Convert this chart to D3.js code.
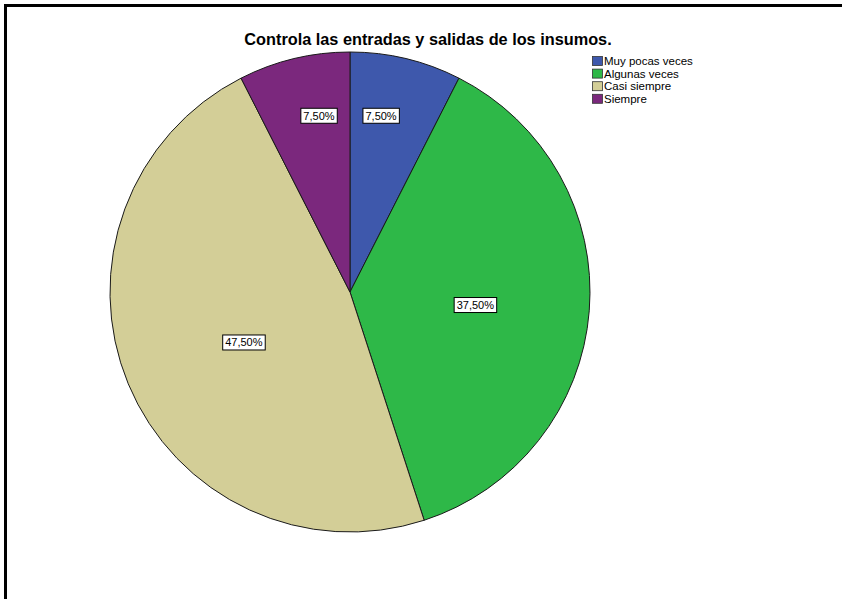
<!DOCTYPE html>
<html>
<head>
<meta charset="utf-8">
<script src="https://cdn.jsdelivr.net/npm/d3@7"></script>
<style>
  html, body { margin: 0; padding: 0; background: #fff; overflow: hidden; }
  svg { display: block; font-family: Arial, "Liberation Sans", sans-serif; }
</style>
</head>
<body>
<svg id="chart" width="842" height="599"></svg>
<script>
// Response categories and their percentages
const categories = ["Muy pocas veces", "Algunas veces", "Casi siempre", "Siempre"];
const percents = [7.5, 37.5, 47.5, 7.5];
const colors = ["#3E58AC", "#2EB848", "#D3CE97", "#7B287D"];
const title = "Controla las entradas y salidas de los insumos.";

const svg = d3.select("#chart");
const W = 842, H = 599;

svg.append("rect").attr("width", W).attr("height", H).attr("fill", "#fff");

// Outer frame (only the top and left edges fall inside the view)
svg.append("path")
  .attr("d", `M5.5,${H + 10}V5.5H${W + 10}`)
  .attr("fill", "none").attr("stroke", "#000").attr("stroke-width", 3);

// Title
svg.append("text")
  .attr("x", 428).attr("y", 44.5)
  .attr("text-anchor", "middle")
  .attr("font-size", 16.3).attr("font-weight", "bold")
  .attr("fill", "#000")
  .text(title);

// Pie
const cx = 350, cy = 292, R = 240;
const g = svg.append("g").attr("transform", `translate(${cx},${cy})`);

const pie = d3.pie().sort(null).value(d => d)(percents);
const arc = d3.arc().innerRadius(0).outerRadius(R);

g.selectAll("path.slice")
  .data(pie)
  .join("path")
  .attr("class", "slice")
  .attr("d", arc)
  .attr("fill", (d, i) => colors[i])
  .attr("stroke", "#1a1a1a")
  .attr("stroke-width", 1);

// Value labels: radial distance (fraction of radius) and angular nudge per slice
const labelRadius = [0.745, 0.525, 0.49, 0.745];
const labelNudge = [-3.5, 1.5, -3, 3.5];
const fmt = v => d3.format(".2f")(v).replace(".", ",") + "%";

const labels = g.selectAll("g.lab")
  .data(pie)
  .join("g")
  .attr("class", "lab")
  .attr("transform", (d, i) => {
    const a = (d.startAngle + d.endAngle) / 2 + labelNudge[i] * Math.PI / 180;
    const r = R * labelRadius[i];
    return `translate(${r * Math.sin(a)},${-r * Math.cos(a)})`;
  });

labels.each(function (d, i) {
  const sel = d3.select(this);
  const t = sel.append("text")
    .attr("text-anchor", "middle")
    .attr("dy", "0.35em")
    .attr("font-size", 11)
    .attr("fill", "#000")
    .text(fmt(percents[i]));
  const bb = t.node().getBBox();
  sel.insert("rect", "text")
    .attr("x", bb.x - 2.5).attr("y", bb.y - 1.5)
    .attr("width", bb.width + 5).attr("height", bb.height + 3)
    .attr("fill", "#fff").attr("stroke", "#000").attr("stroke-width", 1);
});

// Legend
const legend = svg.append("g").attr("transform", "translate(592,56)");
const items = legend.selectAll("g")
  .data(categories)
  .join("g")
  .attr("transform", (d, i) => `translate(0,${i * 12.6})`);
items.append("rect")
  .attr("x", 0.5).attr("y", 0.5)
  .attr("width", 10).attr("height", 9)
  .attr("fill", (d, i) => colors[i])
  .attr("stroke", "#333").attr("stroke-width", 0.8);
items.append("text")
  .attr("x", 12).attr("y", 5).attr("dy", "0.35em")
  .attr("font-size", 11.5)
  .attr("fill", "#000")
  .text(d => d);
</script>
</body>
</html>
